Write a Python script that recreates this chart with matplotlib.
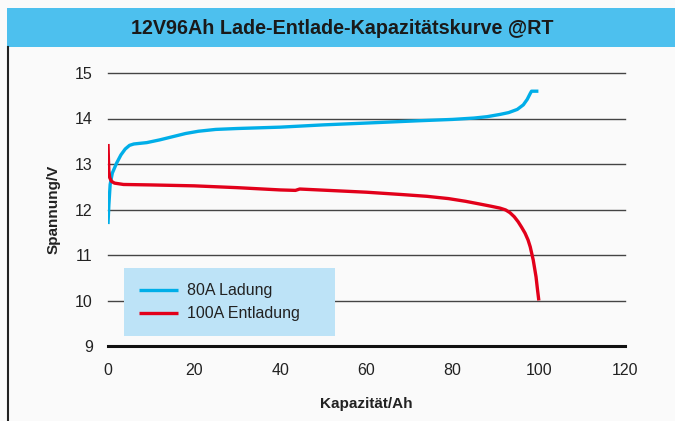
import matplotlib.pyplot as plt
from matplotlib.patches import Rectangle
from matplotlib.lines import Line2D

plt.switch_backend('agg')
plt.rcParams['font.family'] = ['Liberation Sans', 'DejaVu Sans']

# Daten
lade_ah = [0, 0.2, 0.5, 1.0, 2, 3, 4, 5, 6, 9, 12, 15, 18, 21, 25, 30, 40, 50, 60, 72, 80, 85, 88,
           91, 93, 95, 96.4, 97.3, 98, 98.3, 99.9]
lade_v = [11.68, 12.1, 12.55, 12.8, 13.02, 13.2, 13.33, 13.41, 13.44, 13.47, 13.53, 13.6, 13.67, 13.72,
          13.76, 13.78, 13.81, 13.86, 13.9, 13.95, 13.98, 14.01, 14.04, 14.09, 14.13, 14.2, 14.3, 14.42,
          14.55, 14.6, 14.6]
entlade_ah = [0, 0.1, 0.2, 0.4, 0.8, 1.5, 3.6, 10, 20, 30, 40, 43.5, 44.5, 60, 68, 74, 79, 83, 86.3,
              89, 91, 92.3, 93.3, 94.3, 95.2, 96.0, 96.8, 97.5, 98.0, 98.7, 99.35, 99.7, 100.0]
entlade_v = [13.44, 13.1, 12.85, 12.7, 12.62, 12.58, 12.55, 12.54, 12.52, 12.48, 12.43, 12.42, 12.45,
             12.38, 12.33, 12.29, 12.24, 12.18, 12.12, 12.07, 12.03, 11.99, 11.93, 11.84, 11.73, 11.61,
             11.48, 11.33, 11.18, 10.89, 10.52, 10.23, 10.0]

x_ticks = [0, 20, 40, 60, 80, 100, 120]
y_ticks = [9, 10, 11, 12, 13, 14, 15]

blau = '#00aee8'
rot = '#e2001a'

fig = plt.figure(figsize=(6.75, 4.21), dpi=100)
fig.patch.set_facecolor('#fafafa')

# Titelbalken und linker Rand
fig.patches.append(Rectangle((7 / 675, 1 - 47 / 421), 1, 39 / 421, transform=fig.transFigure,
                             facecolor='#4dc0ee', edgecolor='none'))
fig.lines.append(Line2D([7.5 / 675, 7.5 / 675], [0, 1 - 47 / 421], transform=fig.transFigure,
                        color='#222222', lw=1.5))
fig.text(342 / 675, 1 - 28 / 421, '12V96Ah Lade-Entlade-Kapazitätskurve @RT', ha='center', va='center',
         fontsize=14.2, fontweight='bold', color='#1a1a1a')

ax = fig.add_axes([108 / 675, 75 / 421, 517 / 675, 273 / 421])
ax.set_facecolor('#fafafa')
ax.set_xlim(0, 120)
ax.set_ylim(9, 15)
for s in ax.spines.values():
    s.set_visible(False)

for v in y_ticks[1:]:
    ax.axhline(v, color='#444444', lw=1.0, clip_on=False, zorder=1)
ax.axhline(9, color='#111111', lw=2.2, clip_on=False, zorder=1)

ax.plot(lade_ah, lade_v, color=blau, lw=2.4, solid_capstyle='butt', solid_joinstyle='round',
        zorder=3, label='80A Ladung')
ax.plot(entlade_ah, entlade_v, color=rot, lw=2.4, solid_capstyle='butt', solid_joinstyle='round',
        zorder=3, label='100A Entladung')

ax.set_xticks(x_ticks)
ax.set_yticks(y_ticks)
ax.tick_params(length=0, labelsize=11.5, colors='#222222')
ax.tick_params(axis='x', pad=12)
ax.tick_params(axis='y', pad=11)

ax.set_xlabel('Kapazität/Ah', fontsize=11, fontweight='bold', color='#222222', labelpad=14)
ax.set_ylabel('Spannung/V', fontsize=11, fontweight='bold', color='#222222', labelpad=10)

leg = ax.legend(loc='upper left', bbox_to_anchor=(16 / 517, 10 / 273, 211 / 517, 68 / 273),
                mode='expand', frameon=True, fancybox=False, fontsize=11.5, handlelength=2.4,
                borderpad=0.95, labelspacing=0.5, handletextpad=0.6, borderaxespad=0)
leg.get_frame().set_facecolor('#bde3f7')
leg.get_frame().set_edgecolor('none')
leg.get_frame().set_alpha(1)
for t in leg.get_texts():
    t.set_color('#222222')

fig.savefig('out.png', dpi=100, facecolor=fig.get_facecolor())
